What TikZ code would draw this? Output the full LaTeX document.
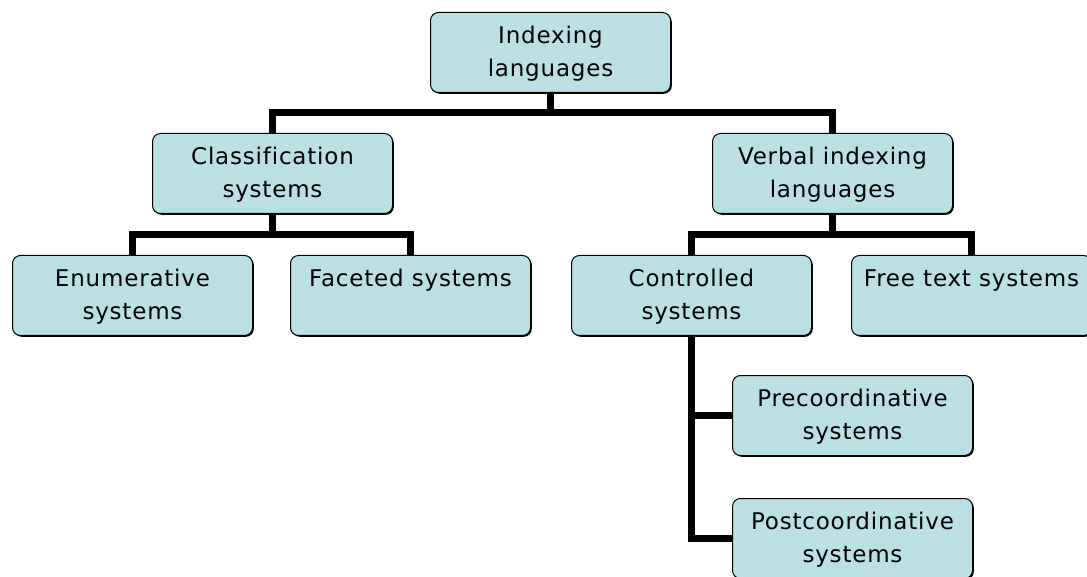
\documentclass[tikz,border=0pt]{standalone}
\usepackage{fontspec}
\setmainfont{DejaVu Sans}[LetterSpace=3.5,Ligatures=NoCommon]
\usetikzlibrary{shadows}
\definecolor{boxfill}{RGB}{187,224,227}
\newcommand\boxtext[1]{\parbox[c][80pt][t]{240pt}{\centering\fontsize{23}{33}\selectfont\rule{0pt}{31pt}#1}}
\begin{document}
\begin{tikzpicture}[x=1pt,y=-1pt,
  box/.style={draw=black, line width=1pt, fill=boxfill, rounded corners=8pt,
    inner sep=0pt, anchor=north west,
    drop shadow={shadow xshift=1.3pt, shadow yshift=-1.3pt, fill=black, opacity=1}},
  conn/.style={line width=7pt, line join=miter}]
\useasboundingbox (0,0) rectangle (1087,577);
\node[box] (idx) at (430,12) {\boxtext{Indexing\\languages}};
\node[box] (cls) at (152,133) {\boxtext{Classification\\systems}};
\node[box] (vil) at (712,133) {\boxtext{Verbal indexing\\languages}};
\node[box] (enu) at (12,255) {\boxtext{Enumerative\\systems}};
\node[box] (fac) at (290,255) {\boxtext{Faceted systems}};
\node[box] (ctl) at (571,255) {\boxtext{Controlled\\systems}};
\node[box] (fre) at (851,255) {\boxtext{Free text systems}};
\node[box] (pre) at (732,375) {\boxtext{Precoordinative\\systems}};
\node[box] (pst) at (732,498) {\boxtext{Postcoordinative\\systems}};
\coordinate (r1) at (0,113);
\coordinate (r2) at (0,235);
\draw[conn] (idx.south) -- (idx.south |- r1);
\draw[conn] (cls.north) -- (cls.north |- r1) -- (vil.north |- r1) -- (vil.north);
\draw[conn] (cls.south) -- (cls.south |- r2);
\draw[conn] (enu.north) -- (enu.north |- r2) -- (fac.north |- r2) -- (fac.north);
\draw[conn] (vil.south) -- (vil.south |- r2);
\draw[conn] (ctl.north) -- (ctl.north |- r2) -- (fre.north |- r2) -- (fre.north);
\draw[conn] (ctl.south) |- (pst.west);
\draw[conn] (ctl.south |- pre.west) -- (pre.west);
\end{tikzpicture}
\end{document}
